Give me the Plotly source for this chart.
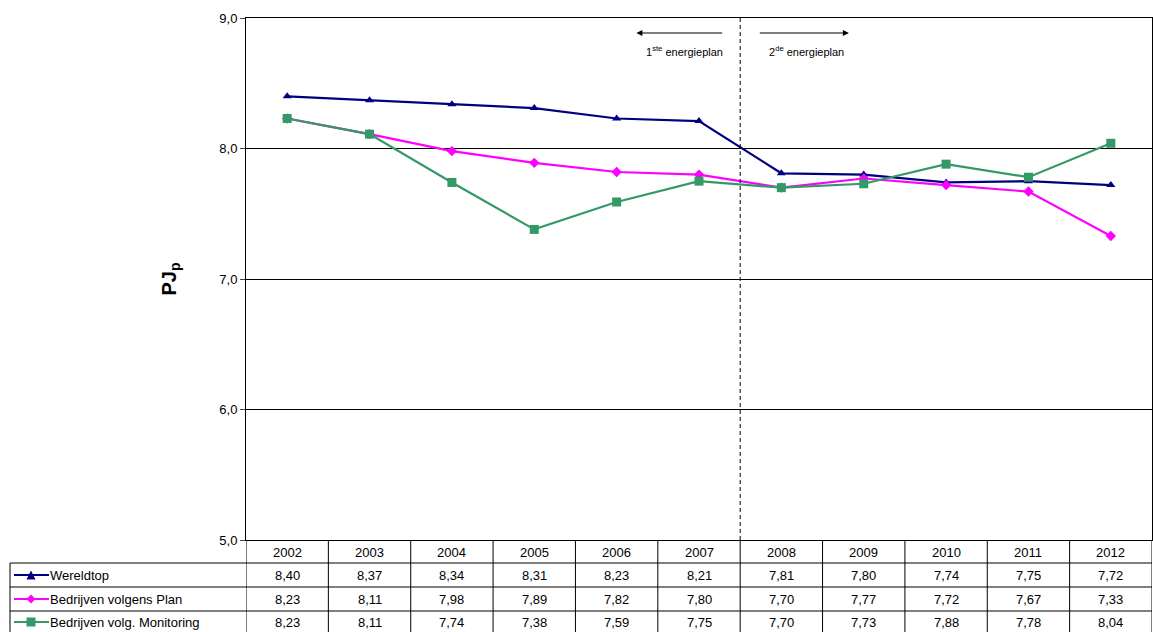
import plotly.graph_objects as go

years = ["2002","2003","2004","2005","2006","2007","2008","2009","2010","2011","2012"]
wereldtop = [8.40,8.37,8.34,8.31,8.23,8.21,7.81,7.80,7.74,7.75,7.72]
plan = [8.23,8.11,7.98,7.89,7.82,7.80,7.70,7.77,7.72,7.67,7.33]
monitoring = [8.23,8.11,7.74,7.38,7.59,7.75,7.70,7.73,7.88,7.78,8.04]
names = ["Wereldtop","Bedrijven volgens Plan","Bedrijven volg. Monitoring"]
colors = ["#000080","#FF00FF","#339966"]
symbols = ["triangle-up","diamond","square"]
series = [wereldtop, plan, monitoring]

W, H = 1153, 632
L, R, T, B = 246, 1, 18, 92
PW, PH = W-L-R, H-T-B
def px(x): return (x-L)/PW
def py(y): return (H-B-y)/PH

FONT = "Liberation Sans, Arial"
fig = go.Figure()
xs = list(range(len(years)))
for s, n, c, m in zip(series, names, colors, symbols):
    fig.add_trace(go.Scatter(x=xs, y=s, name=n, mode="lines+markers",
        line=dict(color=c, width=2.2), marker=dict(symbol=m, size=9 if m == "square" else 8, color=c),
        showlegend=False))

shapes = []
ann = []
line_k = dict(color="black", width=1)
shapes.append(dict(type="line", xref="x", yref="paper", x0=5.5, x1=5.5, y0=py(540), y1=1, line=dict(color="black", width=1, dash="4px,3px")))
for k in range(len(years)+1):
    shapes.append(dict(type="line", xref="x", yref="paper", x0=k-0.5, x1=k-0.5, y0=py(632), y1=py(540), line=line_k))
shapes.append(dict(type="line", xref="paper", yref="paper", x0=px(10), x1=px(10), y0=py(632), y1=py(563), line=line_k))
for yy in (563, 587, 611):
    shapes.append(dict(type="line", xref="paper", yref="paper", x0=px(10), x1=1, y0=py(yy), y1=py(yy), line=line_k))
for i, yv in enumerate(years):
    ann.append(dict(x=i, y=py(552), xref="x", yref="paper", yanchor="middle", text=yv, showarrow=False, font=dict(size=13)))
rows = [575, 599, 622]
for r, s, n, c, m in zip(rows, series, names, colors, symbols):
    for i, v in enumerate(s):
        ann.append(dict(x=i, y=py(r), xref="x", yref="paper", yanchor="middle", text=f"{v:.2f}".replace(".", ","), showarrow=False, font=dict(size=13)))
    ann.append(dict(x=px(48), y=py(r), xref="paper", yref="paper", xanchor="left", yanchor="middle", text=n, showarrow=False, font=dict(size=13)))
    shapes.append(dict(type="line", xref="paper", yref="paper", x0=px(14), x1=px(49), y0=py(r), y1=py(r), line=dict(color=c, width=2.2)))
    cx, cy, h = 31, r, 4.5
    if m == "triangle-up":
        path = f"M{px(cx-h)},{py(cy+h)} L{px(cx+h)},{py(cy+h)} L{px(cx)},{py(cy-h)} Z"
    elif m == "diamond":
        path = f"M{px(cx-h)},{py(cy)} L{px(cx)},{py(cy-h)} L{px(cx+h)},{py(cy)} L{px(cx)},{py(cy+h)} Z"
    else:
        path = f"M{px(cx-h)},{py(cy-h)} L{px(cx+h)},{py(cy-h)} L{px(cx+h)},{py(cy+h)} L{px(cx-h)},{py(cy+h)} Z"
    shapes.append(dict(type="path", xref="paper", yref="paper", path=path, fillcolor=c, line=dict(color=c, width=0)))
ann.append(dict(x=4.24, y=8.885, ax=5.3, ay=8.885, xref="x", yref="y", axref="x", ayref="y", text="", showarrow=True, arrowhead=2, arrowsize=1, arrowwidth=1.2, arrowcolor="black"))
ann.append(dict(x=6.82, y=8.885, ax=5.72, ay=8.885, xref="x", yref="y", axref="x", ayref="y", text="", showarrow=True, arrowhead=2, arrowsize=1, arrowwidth=1.2, arrowcolor="black"))
ann.append(dict(x=4.82, y=8.75, xref="x", yref="y", text="1<sup>ste</sup> energieplan", showarrow=False, font=dict(size=11)))
ann.append(dict(x=6.3, y=8.75, xref="x", yref="y", text="2<sup>de</sup> energieplan", showarrow=False, font=dict(size=11)))
ann.append(dict(x=px(155), y=0.5, xref="paper", yref="paper", text="<b>PJ<sub>p</sub></b>", textangle=-90, showarrow=False, font=dict(size=20)))

fig.update_layout(width=W, height=H, margin=dict(l=L, r=R, t=T, b=B), autosize=False,
    plot_bgcolor="white", paper_bgcolor="white", font=dict(family=FONT, color="black", size=13),
    shapes=shapes, annotations=ann,
    xaxis=dict(range=[-0.5, 10.5], showticklabels=False, showgrid=False, zeroline=False,
               showline=True, linecolor="black", mirror=True, ticks=""),
    yaxis=dict(range=[5, 9], dtick=1, tickformat=".1f", showgrid=True, gridcolor="black", gridwidth=1,
               zeroline=False, showline=True, linecolor="black", mirror=True, ticks="outside", ticklen=5,
               tickfont=dict(size=13)),
    separators=",.")
fig.write_html("out.html", config={"displayModeBar": False},
               post_script="document.body.style.margin='0';document.body.style.overflow='hidden';")
